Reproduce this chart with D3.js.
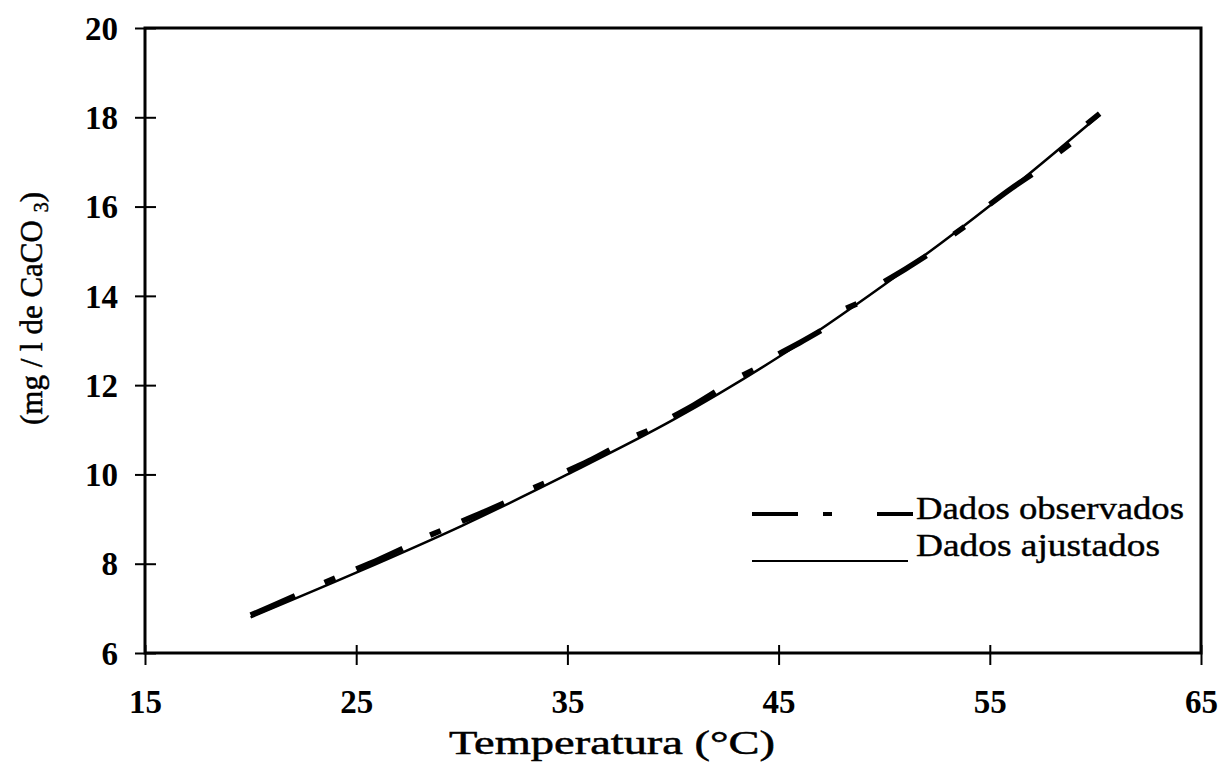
<!DOCTYPE html>
<html>
<head>
<meta charset="utf-8">
<script src="https://cdn.jsdelivr.net/npm/d3@7"></script>
<style>
  html, body { margin: 0; padding: 0; background: #fff; }
  svg { display: block; }
  text { font-family: "Liberation Serif", "Times New Roman", serif; fill: #000; }
</style>
</head>
<body>
<svg id="chart" width="1223" height="762"></svg>
<script>
// ---- data ----
const xTicks = [15, 25, 35, 45, 55, 65];
const yTicks = [6, 8, 10, 12, 14, 16, 18, 20];

// fitted curve ("Dados ajustados")
const fitX = [20, 25, 30, 35, 40, 45, 50, 55, 60.2];
const fitY = [6.80, 7.80, 8.85, 10.0, 11.22, 12.63, 14.25, 16.02, 18.05];

// observed data ("Dados observados"), null = gap between dashes
const obsX = [20.0, 21.0, 22.1, null, 23.5, 24.0, null, 25.0, 26.1, 27.2, null,
              28.5, 29.0, null, 30.0, 31.0, 32.0, null, 33.4, 33.9, null,
              35.0, 36.0, 37.0, null, 38.3, 38.8, null, 40.0, 41.0, 42.0, null,
              43.3, 43.8, null, 45.0, 46.0, 47.0, null, 48.2, 48.7, null,
              50.0, 51.0, 52.0, null, 53.3, 53.8, null, 55.0, 56.0, 57.0, null,
              58.3, 58.8, null, 59.6, 60.2];
const obsY = [6.85, 7.05, 7.28, null, 7.58, 7.68, null, 7.88, 8.10, 8.34, null,
              8.64, 8.74, null, 8.95, 9.15, 9.36, null, 9.70, 9.80, null,
              10.08, 10.30, 10.55, null, 10.88, 10.98, null, 11.30, 11.56, 11.85, null,
              12.22, 12.34, null, 12.70, 12.95, 13.22, null, 13.72, 13.82, null,
              14.32, 14.60, 14.90, null, 15.38, 15.55, null, 16.05, 16.40, 16.72, null,
              17.22, 17.40, null, 17.85, 18.08];

const xTitle = "Temperatura (°C)";
const yTitle = "(mg / l de CaCO";
const yTitleSub = "3";
const legendLabels = ["Dados observados", "Dados ajustados"];

// ---- layout ----
const svg = d3.select("#chart");
svg.append("rect").attr("width", 1223).attr("height", 762).attr("fill", "#fff");

const x = d3.scaleLinear().domain([15, 65]).range([145, 1201]);
const y = d3.scaleLinear().domain([6, 20]).range([653, 28]);

// frame
const frame = svg.append("g").attr("stroke", "#000").attr("stroke-width", 3).attr("fill", "none");
frame.append("rect")
  .attr("x", x(15)).attr("y", y(20))
  .attr("width", x(65) - x(15)).attr("height", y(6) - y(20));

// y axis (ticks crossing the axis line)
const yAxis = d3.axisLeft(y).tickValues(yTicks).tickSizeInner(10).tickSizeOuter(0).tickPadding(18)
  .tickFormat(d3.format("d"));
const gy = svg.append("g").attr("transform", `translate(${x(15)},0)`).call(yAxis);
gy.select(".domain").remove();
gy.selectAll(".tick line").attr("x2", -10).attr("x1", 11).attr("stroke", "#000").attr("stroke-width", 2);
gy.selectAll(".tick text")
  .style("font-size", "33px").style("font-weight", "bold")
  .attr("dy", "0.34em").attr("x", -27);

// x axis
const xAxis = d3.axisBottom(x).tickValues(xTicks).tickSizeInner(12).tickSizeOuter(0).tickPadding(22)
  .tickFormat(d3.format("d"));
const gx = svg.append("g").attr("transform", `translate(0,${y(6)})`).call(xAxis);
gx.select(".domain").remove();
gx.selectAll(".tick line").attr("y1", -8).attr("y2", 12).attr("stroke", "#000").attr("stroke-width", 2);
gx.selectAll(".tick text")
  .style("font-size", "33px").style("font-weight", "bold")
  .attr("dy", 0).attr("y", 60);

// titles
svg.append("text")
  .attr("x", 612).attr("y", 754)
  .attr("text-anchor", "middle")
  .style("font-size", "33px")
  .attr("stroke", "#000").attr("stroke-width", 0.5)
  .attr("textLength", 326).attr("lengthAdjust", "spacingAndGlyphs")
  .text(xTitle);

const yt = svg.append("text")
  .attr("transform", `translate(42,${(y(6) + y(20)) / 2 - 32}) rotate(-90)`)
  .attr("text-anchor", "middle")
  .attr("stroke", "#000").attr("stroke-width", 0.5)
  .style("font-size", "31px");
yt.append("tspan").text(yTitle + " ");
yt.append("tspan").style("font-size", "20px").attr("dy", 6).text(yTitleSub);
yt.append("tspan").attr("dy", -6).text(")");

// lines
const fitData = fitX.map((d, i) => ({ x: d, y: fitY[i] }));
const obsData = obsX.map((d, i) => ({ x: d, y: obsY[i] }));

const fitLine = d3.line().x(d => x(d.x)).y(d => y(d.y)).curve(d3.curveMonotoneX);
svg.append("path").datum(fitData)
  .attr("d", fitLine)
  .attr("fill", "none").attr("stroke", "#000").attr("stroke-width", 2.5);

const obsLine = d3.line().defined(d => d.x != null && d.y != null)
  .x(d => x(d.x)).y(d => y(d.y)).curve(d3.curveMonotoneX);
svg.append("path").datum(obsData)
  .attr("d", obsLine)
  .attr("fill", "none").attr("stroke", "#000").attr("stroke-width", 5.5)
  .attr("stroke-linecap", "butt");

// legend
const lg = svg.append("g");
lg.append("path")
  .attr("d", "M752,514H798M823,514H832M877,514H913")
  .attr("stroke", "#000").attr("stroke-width", 4).attr("fill", "none");
lg.append("line").attr("x1", 752).attr("x2", 908).attr("y1", 561).attr("y2", 561)
  .attr("stroke", "#000").attr("stroke-width", 2.2);
lg.append("text").attr("x", 916).attr("y", 519).style("font-size", "31px")
  .attr("stroke", "#000").attr("stroke-width", 0.4)
  .attr("textLength", 268).attr("lengthAdjust", "spacingAndGlyphs").text(legendLabels[0]);
lg.append("text").attr("x", 916).attr("y", 556).style("font-size", "31px")
  .attr("stroke", "#000").attr("stroke-width", 0.4)
  .attr("textLength", 244).attr("lengthAdjust", "spacingAndGlyphs").text(legendLabels[1]);
</script>
</body>
</html>
